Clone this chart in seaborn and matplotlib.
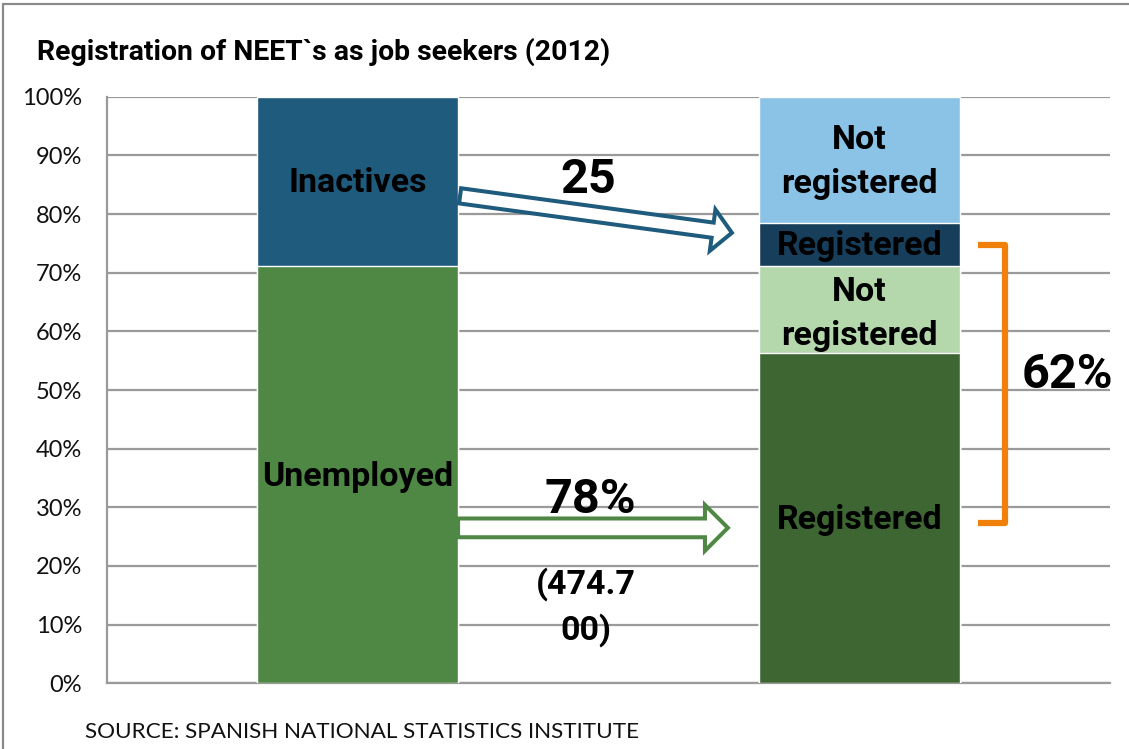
import numpy as np
import pandas as pd
import matplotlib
matplotlib.use("Agg")
import matplotlib.pyplot as plt
import matplotlib.patches as mpatches
from matplotlib.lines import Line2D
import seaborn as sns

# --- data -------------------------------------------------------------
bars = ["NEET", "Registration"]

neet_segments = ["Unemployed", "Inactives"]
neet_values = [71.1, 28.9]

reg_segments = ["Registered", "Not registered", "Registered", "Not registered"]
reg_values = [56.3, 14.9, 7.2, 21.6]

yticks = list(range(0, 101, 10))
ytick_labels = [f"{v}%" for v in yticks]

title = "Registration of NEET`s as job seekers (2012)"
source = "SOURCE: SPANISH NATIONAL STATISTICS INSTITUTE"

unemployed_flow = "78%"
unemployed_count = "(474.7\n00)"
inactive_flow = "25"
registered_total = "62%"

# --- style ------------------------------------------------------------
sns.set_style("white")
plt.rcParams["font.family"] = ["Lato", "DejaVu Sans"]
BOLD = ["Roboto", "DejaVu Sans"]

neet_colors = ["#4F8744", "#1F5B7D"]
reg_colors = ["#3E6633", "#B4D7AC", "#173F5B", "#8BC3E6"]
grid_gray = "#9A9A9A"

fig = plt.figure(figsize=(11.29, 7.49), dpi=100)
ax = fig.add_axes([0.0948, 0.0877, 0.8884, 0.7832])

# stacked bars: draw cumulative totals from the top segment down
def stacked(bar_name, values, colors):
    tops = np.cumsum(values)
    for top, col in reversed(list(zip(tops, colors))):
        df = pd.DataFrame({"bar": [bar_name], "value": [top]})
        sns.barplot(data=df, x="bar", y="value", order=bars, color=col,
                    width=0.4, saturation=1, ax=ax, zorder=3)
    return tops

neet_tops = stacked(bars[0], neet_values, neet_colors)
reg_tops = stacked(bars[1], reg_values, reg_colors)

ax.set_xlim(-0.5, 1.5)
ax.set_ylim(0, 100)
ax.set_yticks(yticks)
ax.set_yticklabels(ytick_labels, fontsize=17, color="#111111")
ax.set_xticks([])
ax.set_xlabel("")
ax.set_ylabel("")
ax.yaxis.grid(True, color=grid_gray, lw=1.6, zorder=0)
ax.set_axisbelow(True)
ax.tick_params(axis="y", direction="out", length=6, width=1.5, color=grid_gray, pad=12)
for s in ["top", "right"]:
    ax.spines[s].set_visible(False)
for s in ["left", "bottom"]:
    ax.spines[s].set_color(grid_gray)
    ax.spines[s].set_linewidth(1.6)

# segment labels
lab = dict(ha="center", va="center", family=BOLD, fontweight="bold", fontsize=24.5,
           color="black", zorder=5, linespacing=1.47)
ax.text(0, 35.2, neet_segments[0], **lab)
ax.text(0, 85.3, neet_segments[1], **lab)
ax.text(1, 27.8, reg_segments[0], **lab)
ax.text(1, 63.0, reg_segments[1].replace(" ", "\n"), **lab)
ax.text(1, 74.6, reg_segments[2], **lab)
ax.text(1, 88.9, reg_segments[3].replace(" ", "\n"), **lab)

# flow arrows
def block_arrow(p0, p1, color, tail, head_w, head_l, lw):
    style = mpatches.ArrowStyle.Simple(head_length=head_l, head_width=head_w, tail_width=tail)
    arr = mpatches.FancyArrowPatch(p0, p1, arrowstyle=style, mutation_scale=1,
                                   facecolor="white", edgecolor=color, lw=lw,
                                   shrinkA=0, shrinkB=0, zorder=6,
                                   joinstyle="miter", clip_on=False)
    ax.add_patch(arr)

block_arrow((0.204, 83.1), (0.746, 76.8), "#1F5B7D", 11, 30, 14, 2.9)
block_arrow((0.200, 26.5), (0.738, 26.5), "#4F8744", 13.5, 33, 16.5, 2.9)

big = dict(ha="center", va="center", family=BOLD, fontweight="bold", fontsize=35,
           color="black", zorder=7)
ax.text(0.459, 85.8, inactive_flow, **big)
ax.text(0.463, 31.3, unemployed_flow, **big)
ax.text(0.454, 13.0, unemployed_count, ha="center", va="center", family=BOLD,
        fontweight="bold", fontsize=24.5, color="black", linespacing=1.47, zorder=7)

# bracket for total registered
ax.add_line(Line2D([1.237, 1.291, 1.291, 1.237], [74.7, 74.7, 27.3, 27.3],
                   color="#F0800A", lw=4.5, solid_joinstyle="round",
                   solid_capstyle="butt", clip_on=False, zorder=6))
ax.text(1.416, 52.5, registered_total, clip_on=False, **big)

# title and source
fig.text(37 / 1129, 1 - 52 / 749, title, ha="left", va="center", family=BOLD,
         fontweight="bold", fontsize=20.4, color="black")
fig.text(85 / 1129, 1 - 732 / 749, source, ha="left", va="center",
         fontsize=16.2, color="#111111")

# chart frame
fig.add_artist(Line2D([3 / 1129, 3 / 1129], [0, 1 - 4 / 749], color="#8A8A8A", lw=1.6))
fig.add_artist(Line2D([3 / 1129, 1], [1 - 4 / 749, 1 - 4 / 749], color="#8A8A8A", lw=1.6))

fig.savefig("out.png", dpi=100)
